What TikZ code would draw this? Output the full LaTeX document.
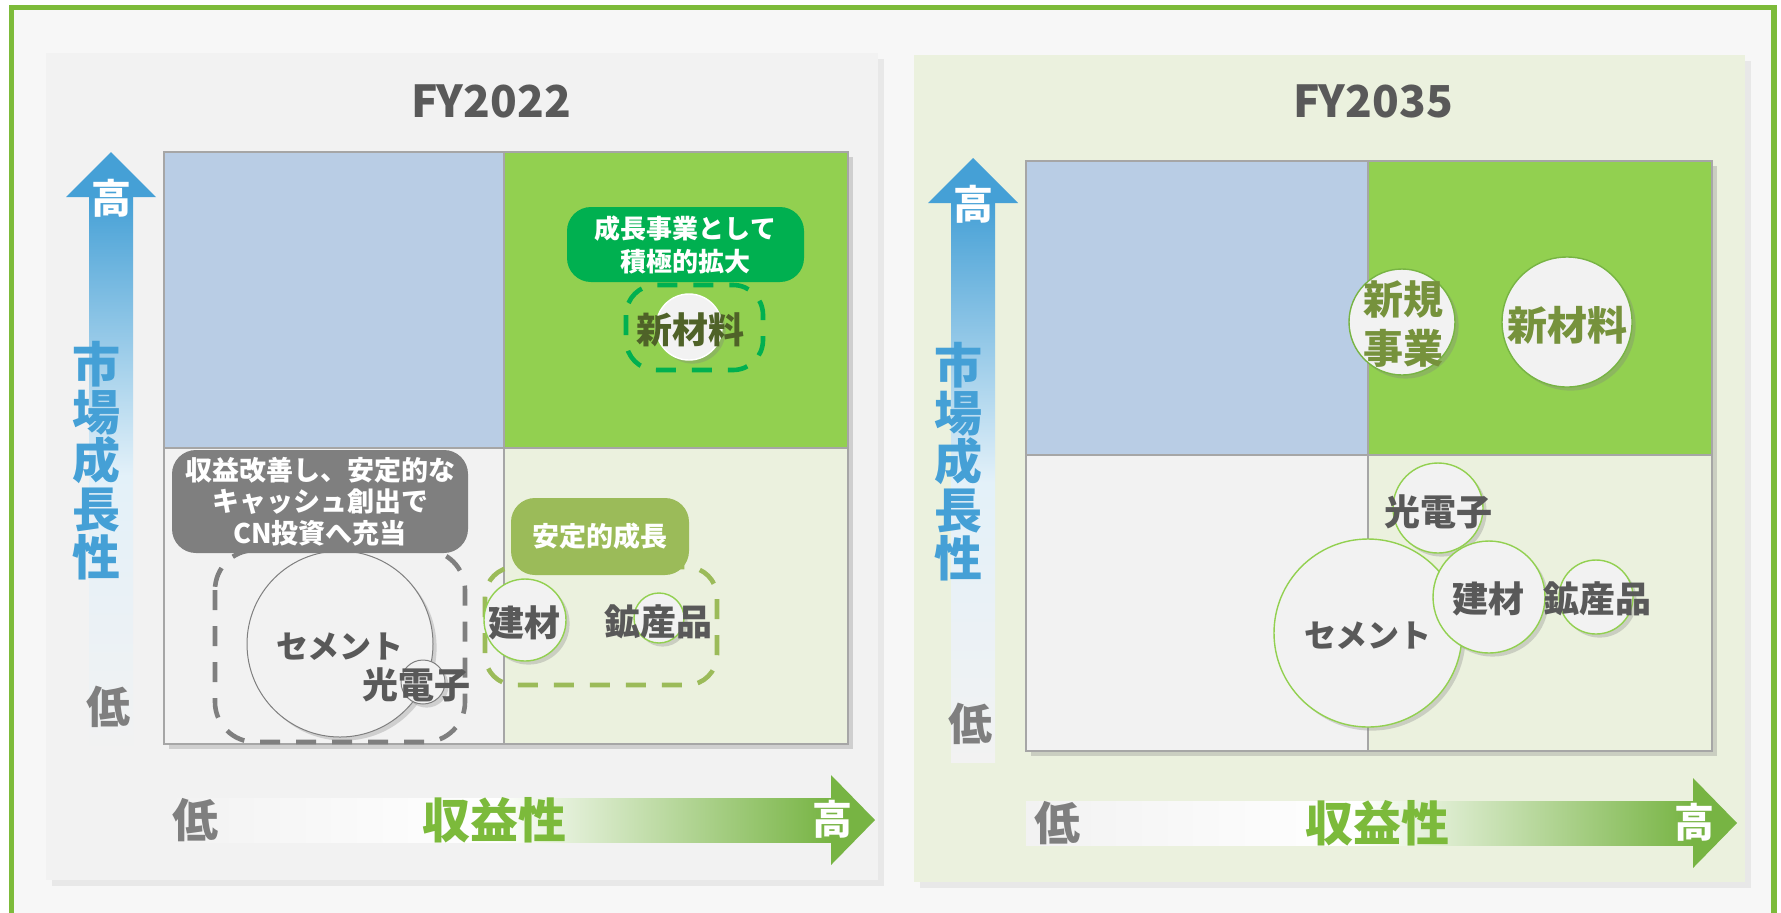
\documentclass[tikz,border=0pt]{standalone}
\usepackage{fontspec}
\newfontfamily\jp{Noto Sans CJK JP}
\usetikzlibrary{shadows}
\definecolor{frameGreen}{HTML}{7DBB3A}
\definecolor{pageBg}{HTML}{F7F7F7}
\definecolor{panelGray}{HTML}{F2F2F2}
\definecolor{panelGreen}{HTML}{EBF1DE}
\definecolor{quadBlue}{HTML}{B9CDE5}
\definecolor{quadGreen}{HTML}{92D050}
\definecolor{gridLine}{HTML}{A6A6A6}
\definecolor{axisBlue}{HTML}{45A0D6}
\definecolor{axisGreen}{HTML}{77B443}
\definecolor{labelGreen}{HTML}{7CBA3B}
\definecolor{textGray}{HTML}{595959}
\definecolor{lowGray}{HTML}{7F7F7F}
\definecolor{calloutGray}{HTML}{7F7F7F}
\definecolor{calloutOlive}{HTML}{9BBB59}
\definecolor{calloutGreen}{HTML}{00B050}
\definecolor{oliveText}{HTML}{76923C}
\definecolor{darkOlive}{HTML}{4F6228}
\newcommand{\jpsize}[1]{\fontsize{#1}{#1}\selectfont}
% quadrant grid: x0, xm, x1, y0, ym, y1
\newcommand{\drawGrid}[6]{
\fill [panelGray,drop shadow={shadow xshift=2.5pt,shadow yshift=-2.5pt,opacity=.3}] (#1,#4) rectangle (#3,#6);
\fill [quadBlue] (#1,#4) rectangle (#2,#5);
\fill [quadGreen] (#2,#4) rectangle (#3,#5);
\fill [panelGray] (#1,#5) rectangle (#2,#6);
\fill [panelGreen] (#2,#5) rectangle (#3,#6);
\draw [gridLine,line width=0.8pt] (#1,#4) rectangle (#3,#6) (#2,#4) -- (#2,#6) (#1,#5) -- (#3,#5);
}
% vertical axis arrow: name, x, tip y, bottom y
\newcommand{\drawVAxis}[4]{
\shade [top color=axisBlue,bottom color=panelGray,middle color=axisBlue!15!white] (#2-22,#3+44) rectangle (#2+22,#4);
\fill [axisBlue] (#2,#3) -- (#2+45,#3+45) -- (#2-45,#3+45) -- cycle;
\node (#1) at (#2,#3+46) [axislbl=20,text=white] {高};
}
% horizontal axis arrow: name, left x, y, tip x
\newcommand{\drawHAxis}[4]{
\shade [left color=panelGray,right color=axisGreen,middle color=white] (#2,#3-22) rectangle (#4-44,#3+22);
\fill [axisGreen] (#4,#3) -- (#4-44,#3-45) -- (#4-44,#3+45) -- cycle;
\node (#1) at (#4-43,#3-1) [axislbl=20,text=white] {高};
}
\tikzset{
  axislbl/.style={font=\jp\bfseries\jpsize{#1},inner sep=0pt},
  title/.style={font=\jp\bfseries\jpsize{22},text=textGray,inner sep=0pt},
  vlbl/.style={font=\jp\bfseries\fontsize{24}{24.1}\selectfont,text=axisBlue,align=center,inner sep=0pt},
  bubble/.style={circle,inner sep=0pt,fill=panelGray,line width=0.7pt,draw=#1,
    drop shadow={shadow xshift=1.8pt,shadow yshift=-1.8pt,opacity=.3}},
  bubtxt/.style={font=\jp\bfseries\jpsize{#1},text=textGray,inner sep=0pt,align=center},
  callout/.style={rounded corners=12pt,fill=#1,text=white,inner sep=0pt,align=center,
    font=\jp\bfseries\fontsize{13.5}{15.75}\selectfont},
  grpbox/.style={draw=#1,line width=2.3pt,dash pattern=on 10pt off 8pt},
}
\begin{document}
\begin{tikzpicture}[x=0.5pt,y=-0.5pt]
\useasboundingbox (0,0) rectangle (1781,912);
\fill [white] (0,0) rectangle (1781,912);
\draw [frameGreen,line width=2.7pt,fill=pageBg] (11.5,7.5) rectangle (1774,930);
%
% panels
\fill [panelGray,drop shadow={shadow xshift=3pt,shadow yshift=-3pt,opacity=.12}] (46,53) rectangle (878,880);
\fill [panelGreen,drop shadow={shadow xshift=3pt,shadow yshift=-3pt,opacity=.12}] (914,55) rectangle (1745,882);
\node (titleL) at (491,101) [title] {FY2022};
\node (titleR) at (1373,101) [title] {FY2035};
%
\drawGrid{164}{504}{848}{152}{448}{744}
\drawGrid{1026}{1368}{1712}{161}{455}{751}
%
% axes
\drawVAxis{hiVL}{111}{152}{755}
\drawVAxis{hiVR}{973}{158}{762}
\node (growL) at (96,460.5) [vlbl] {市\\場\\成\\長\\性};
\node (growR) at (958,461.5) [vlbl] {市\\場\\成\\長\\性};
\node (loVL) at (108,707) [axislbl=22,text=lowGray] {低};
\node (loVR) at (970,724) [axislbl=22,text=lowGray] {低};
\drawHAxis{hiHL}{164}{820}{875}
\drawHAxis{hiHR}{1026}{823}{1737}
\node (loHL) at (195,820) [axislbl=23,text=lowGray] {低};
\node (loHR) at (1057,823) [axislbl=23,text=lowGray] {低};
\node (profL) at (494,820) [axislbl=24,text=labelGreen] {収益性};
\node (profR) at (1377,823) [axislbl=24,text=labelGreen] {収益性};
%
% FY2022 groups
\draw [grpbox=calloutGray,rounded corners=20pt] (215,550) rectangle (465,742);
\draw [grpbox=calloutOlive,rounded corners=15pt] (485,567) rectangle (717,685);
\draw [grpbox=calloutGreen,rounded corners=15pt] (626,285) rectangle (763,370);
%
\node (cemL) at (340,644) [bubble=lowGray,minimum size=93pt,line width=0.5pt] {};
\node (optL) at (423,682) [bubble=lowGray,minimum size=22pt,line width=0.5pt] {};
\node (bldL) at (525,620) [bubble=quadGreen,minimum size=41pt] {};
\node (minL) at (659,618) [bubble=quadGreen,minimum size=25pt] {};
\node (newL) at (689,327) [bubble=white,minimum size=33pt] {};
%
\node (calGray) at (320,501.5) [callout=calloutGray,minimum width=148pt,minimum height=51.5pt] {収益改善し、安定的な\\キャッシュ創出で\\CN投資へ充当};
\node (calOlive) at (600,536.5) [callout=calloutOlive,minimum width=89pt,minimum height=38.5pt] {安定的成長};
\node (calGreen) at (685.5,244.5) [callout=calloutGreen,minimum width=118.5pt,minimum height=37.5pt,font=\jp\bfseries\fontsize{13}{16.5}\selectfont] {成長事業として\\積極的拡大};
%
\node (cemLtxt) at (340,647) [bubtxt=16] {セメント};
\node (optLtxt) at (416,685) [bubtxt=18] {光電子};
\node (bldLtxt) at (524,623) [bubtxt=18] {建材};
\node (minLtxt) at (658,622) [bubtxt=18] {鉱産品};
\node (newLtxt) at (690,330) [bubtxt=18,text=darkOlive] {新材料};
%
% FY2035 bubbles
\node (cemR) at (1368,633) [bubble=quadGreen,minimum size=94pt] {};
\node (optR) at (1438,508) [bubble=quadGreen,minimum size=45pt] {};
\node (bldR) at (1489,597) [bubble=quadGreen,minimum size=56pt] {};
\node (minR) at (1596,597) [bubble=quadGreen,minimum size=37pt] {};
\node (bizR) at (1402,322) [bubble=axisGreen,minimum size=53pt] {};
\node (newR) at (1567,322) [bubble=axisGreen,minimum size=65pt] {};
%
\node (cemRtxt) at (1368,636) [bubtxt=16] {セメント};
\node (optRtxt) at (1438,512) [bubtxt=18] {光電子};
\node (bldRtxt) at (1488,599) [bubtxt=18] {建材};
\node (minRtxt) at (1597,599) [bubtxt=18] {鉱産品};
\node (bizRtxt) at (1403,324) [bubtxt=20,text=oliveText,font=\jp\bfseries\fontsize{20}{24.5}\selectfont] {新規\\事業};
\node (newRtxt) at (1567,325) [bubtxt=20,text=oliveText] {新材料};
\end{tikzpicture}
\end{document}
